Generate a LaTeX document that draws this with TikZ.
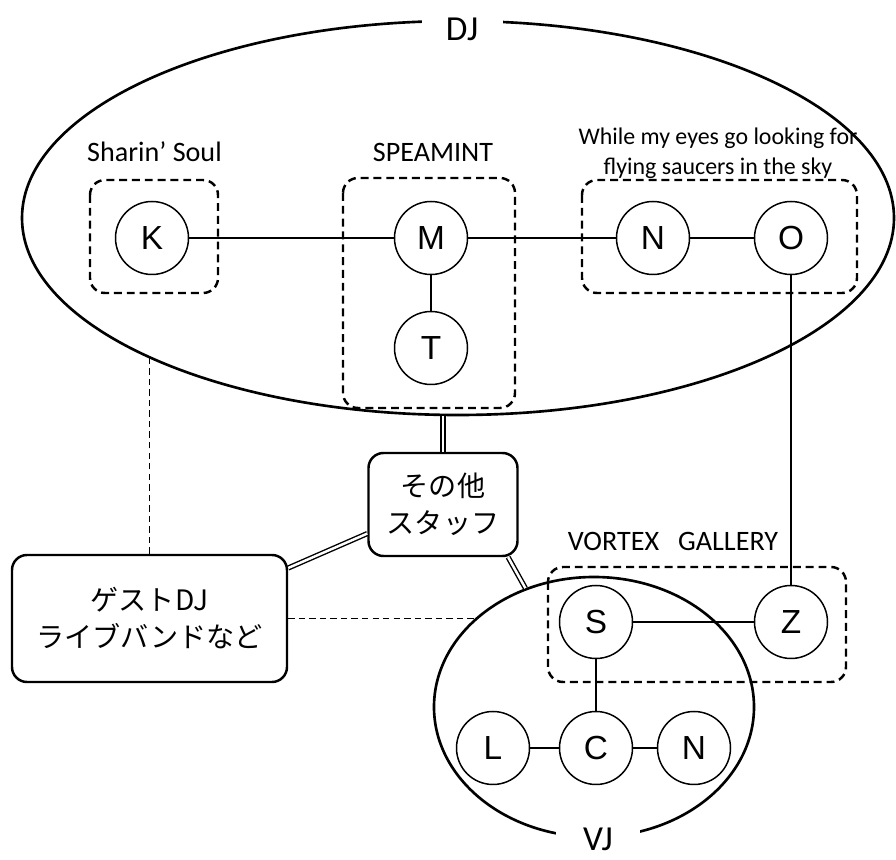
\documentclass[tikz,border=0pt]{standalone}
\usepackage{fontspec}
\setmainfont{Carlito}
\newfontfamily\letterfont{Liberation Sans}
\newfontfamily\jpfont{Noto Sans CJK JP}
\usetikzlibrary{shapes.geometric}

\tikzset{
  member/.style={circle, draw, line width=0.85pt, fill=white, minimum size=1.46cm,
    inner sep=0pt, font=\letterfont\fontsize{19}{22}\selectfont},
  crowd/.style={ellipse, draw, line width=1.5pt, inner sep=0pt},
  crowdname/.style={fill=white, inner sep=2pt, font=\fontsize{20}{24}\selectfont},
  band/.style={draw, line width=1.4pt, dash pattern=on 4.5pt off 2.8pt, rounded corners=0.3cm},
  bandname/.style={font=\fontsize{16}{19}\selectfont},
  staffbox/.style={draw, line width=1.4pt, rounded corners=0.3cm, align=center,
    font=\jpfont\fontsize{16}{21}\selectfont},
  link/.style={line width=0.85pt},
  dbl/.style={double, line width=0.8pt, double distance=1.4pt},
  loose/.style={line width=0.85pt, dash pattern=on 3.6pt off 2.4pt},
}

\begin{document}
\begin{tikzpicture}
  \useasboundingbox (0,0) rectangle (17.92,17.2);

  % DJ and VJ crowds.
  \node[crowd, minimum width=17.44cm, minimum height=7.88cm] (dj) at (9.16,12.84) {};
  \node[crowd, minimum width=6.4cm, minimum height=5.2cm] (vj) at (11.88,3.06) {};
  \node[crowdname, minimum width=1.62cm] (djname) at (9.24,16.62) {DJ};
  \node[crowdname, minimum width=1.68cm] (vjname) at (11.96,0.42) {VJ};

  % Units, dashed.
  \draw[band] (1.8,13.6) rectangle (4.36,11.34);
  \draw[band] (6.86,13.64) rectangle (10.3,9.04);
  \draw[band] (11.64,13.6) rectangle (17.14,11.34);
  \draw[band] (10.96,5.86) rectangle (16.92,3.56);
  \node[bandname] (soul) at (3.09,14.16) {Sharin’ Soul};
  \node[bandname] (mint) at (8.66,14.16) {SPEAMINT};
  \node[align=center, font=\fontsize{13.6}{17}\selectfont] (saucer) at (14.36,14.13)
    {While my eyes go looking for\\flying saucers in the sky};
  \node[bandname] (vortex) at (13.46,6.38) {VORTEX~~~GALLERY};

  % Members.
  \node[member] (k) at (3.04,12.44) {K};
  \node[member] (m) at (8.62,12.44) {M};
  \node[member] (t) at (8.62,10.24) {T};
  \node[member] (n) at (13.06,12.44) {N};
  \node[member] (o) at (15.82,12.44) {O};
  \node[member] (s) at (11.92,4.76) {S};
  \node[member] (z) at (15.82,4.76) {Z};
  \node[member] (l) at (9.86,2.24) {L};
  \node[member] (c) at (11.92,2.24) {C};
  \node[member] (nv) at (13.88,2.24) {N};

  % Staff and guests.
  \node[staffbox, minimum width=2.98cm, minimum height=2.06cm] (staff) at (8.86,7.11)
    {その他\\スタッフ};
  \node[staffbox, minimum width=5.5cm, minimum height=2.54cm] (guest) at (2.99,4.83)
    {ゲストDJ\\ライブバンドなど};

  % Links between members.
  \draw[link] (k) -- (m);
  \draw[link] (m) -- (n);
  \draw[link] (n) -- (o);
  \draw[link] (m) -- (t);
  \draw[link] (o) -- (z);
  \draw[link] (s) -- (z);
  \draw[link] (s) -- (c);
  \draw[link] (l) -- (c);
  \draw[link] (c) -- (nv);

  % Staff ties.
  \draw[dbl] (staff.north) -- (staff.north |- dj.south);
  \draw[dbl] (staff.201) -- (guest.20);
  \draw[dbl] (staff.-39) -- (vj.120);

  % Guest ties.
  \draw[loose] (guest.north) -- (guest.north |- dj.204);
  \draw[loose] (guest.east) -- (guest.east -| vj.143);
\end{tikzpicture}
\end{document}
